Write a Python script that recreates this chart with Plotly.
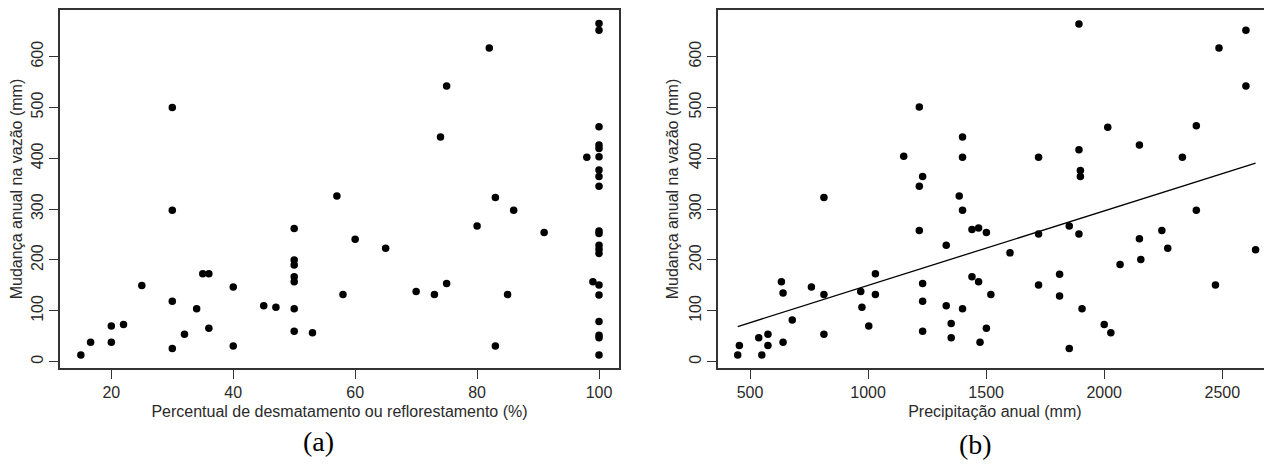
import numpy as np
import plotly.graph_objects as go

# ---------------- data: panel (a) ----------------
defor_pct = [15, 16.6, 20, 20, 22, 25, 30, 30, 30, 30, 32, 34, 35, 36, 36, 40, 40, 45, 47,
             50, 50, 50, 50, 50, 50, 50, 53, 57,
             60, 65, 58, 70, 73, 75, 74, 75, 82, 80, 83, 83, 85, 86, 91, 98, 99,
             100, 100, 100, 100, 100, 100, 100, 100, 100, 100, 100, 100, 100, 100, 100, 100, 100, 100, 100, 100]
defor_dq = [13, 38, 70, 38, 73, 150, 500, 298, 119, 26, 54, 104, 173, 173, 66, 147, 31, 110, 107,
            262, 200, 190, 167, 157, 104, 60, 57, 326,
            241, 223, 132, 138, 132, 154, 442, 542, 617, 267, 323, 31, 132, 298, 254, 402, 157,
            665, 652, 462, 426, 419, 403, 377, 364, 345, 257, 252, 229, 221, 213, 151, 131, 79, 52, 47, 13]

# ---------------- data: panel (b) ----------------
precip_mm = [448, 455, 537, 550, 576, 576, 633, 640, 640, 679, 760, 813, 813, 813, 969, 974, 1003,
             1031, 1031, 1151, 1217, 1231, 1217, 1217, 1231, 1231, 1231, 1331, 1331, 1352, 1352,
             1400, 1400, 1386, 1400, 1400, 1440, 1468, 1501, 1440, 1468, 1501, 1474, 1520,
             1893, 2600, 2486, 2600, 2015, 2390, 2149, 1722, 1893, 1899, 1899, 2331, 2390, 1852,
             1722, 1893, 1601, 2149, 2244, 2269, 2155, 2067, 2641, 1722, 1811, 1811, 1906, 2000,
             2028, 1852, 2471]
precip_dq = [13, 32, 47, 13, 54, 32, 157, 135, 38, 82, 147, 323, 132, 54, 138, 107, 70,
             173, 132, 404, 501, 364, 345, 258, 154, 119, 60, 229, 110, 75, 47,
             442, 402, 326, 298, 104, 260, 263, 254, 167, 157, 66, 38, 132,
             664, 652, 617, 542, 461, 464, 426, 402, 417, 376, 364, 402, 298, 267,
             251, 251, 214, 242, 258, 223, 201, 191, 220, 151, 172, 129, 104, 73,
             57, 26, 151]

y_ticks = [0, 100, 200, 300, 400, 500, 600]
xa_ticks = [20, 40, 60, 80, 100]
xb_ticks = [500, 1000, 1500, 2000, 2500]

# linear fit for panel (b)
slope, intercept = np.polyfit(precip_mm, precip_dq, 1)
fit_x = np.array([min(precip_mm), max(precip_mm)])
fit_y = intercept + slope * fit_x

W, H = 1272, 466
OFF = 8  # default page body margin
FONT = "Liberation Sans, Arial, sans-serif"
TXT = "#2a2a2a"
BOX = "#333333"

fig = go.Figure()
mk = dict(size=7.5, color="black", line=dict(width=0))
fig.add_trace(go.Scatter(x=defor_pct, y=defor_dq, mode="markers", marker=mk,
                         xaxis="x", yaxis="y", showlegend=False))
fig.add_trace(go.Scatter(x=precip_mm, y=precip_dq, mode="markers", marker=mk,
                         xaxis="x2", yaxis="y2", showlegend=False))
fig.add_trace(go.Scatter(x=fit_x, y=fit_y, mode="lines", line=dict(color="black", width=1.3),
                         xaxis="x2", yaxis="y2", showlegend=False))

def px_x(p):
    return (p - OFF) / W

def px_y(p):
    return 1 - (p - OFF) / H

tickfont = dict(family=FONT, size=16, color=TXT)
titlefont = dict(family=FONT, size=16, color=TXT)
common_x = dict(showgrid=False, zeroline=False, showline=True, linecolor=BOX, linewidth=1.5,
                ticks="outside", ticklen=9, tickwidth=1, tickcolor=BOX,
                tickfont=tickfont)
common_y = dict(showgrid=False, zeroline=False, showline=True, linecolor=BOX, linewidth=1.5,
                ticks="outside", ticklen=9, tickwidth=1, tickcolor=BOX,
                tickfont=tickfont, tickangle=-90, tickmode="array", tickvals=y_ticks,
                range=[-12.4, 691.6])

ydom = [px_y(368), px_y(10)]

fig.update_layout(
    width=W, height=H,
    margin=dict(l=0, r=0, t=0, b=0),
    paper_bgcolor="white", plot_bgcolor="white",
    xaxis=dict(**common_x,
               domain=[px_x(60), px_x(619)], anchor="y", mirror=True,
               range=[11.58, 103.28], tickmode="array", tickvals=xa_ticks,
               title=dict(text="Percentual de desmatamento ou reflorestamento (%)",
                          font=titlefont, standoff=6)),
    yaxis=dict(**common_y, domain=ydom, anchor="x", mirror=True,
               title=dict(text="Mudança anual na vazão (mm)", font=titlefont, standoff=4)),
    xaxis2=dict(**common_x,
                domain=[px_x(717.7), px_x(1272)], anchor="y2", mirror=True,
                range=[363.2, 2710.5], tickmode="array", tickvals=xb_ticks,
                title=dict(text="Precipitação anual (mm)", font=titlefont, standoff=6)),
    yaxis2=dict(**common_y, domain=ydom, anchor="x2", mirror=False,
                title=dict(text="Mudança anual na vazão (mm)", font=titlefont, standoff=4)),
    annotations=[
        dict(text="(a)", x=px_x(318.5), y=px_y(441), xref="paper", yref="paper",
             showarrow=False, xanchor="center", yanchor="middle",
             font=dict(family="Liberation Serif, Times New Roman, serif", size=28, color="black")),
        dict(text="(b)", x=px_x(975), y=px_y(444), xref="paper", yref="paper",
             showarrow=False, xanchor="center", yanchor="middle",
             font=dict(family="Liberation Serif, Times New Roman, serif", size=28, color="black")),
    ],
)

fig.write_html("out.html")
